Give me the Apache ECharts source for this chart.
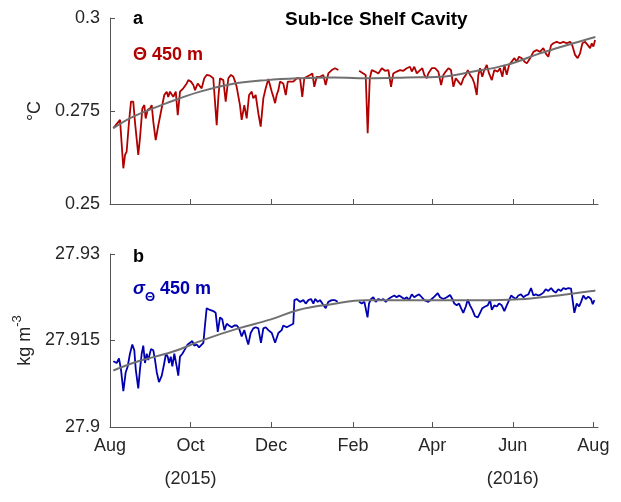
<!DOCTYPE html>
<html><head><meta charset="utf-8">
<script src="https://cdn.jsdelivr.net/npm/echarts@6/dist/echarts.min.js"></script>
<style>html,body{margin:0;padding:0;background:#fff}#c{width:621px;height:502px}</style>
</head><body><div id="c"></div>
<script>
// ---- data (days since 1 Aug 2015, value) ----
const xMaxDay = 369.5;
const tickDays = [0, 61, 122, 184, 244, 305, 366];
const tickLabels = ['Aug', 'Oct', 'Dec', 'Feb', 'Apr', 'Jun', 'Aug'];
const yearLabels = { 61: '(2015)', 305: '(2016)' };
const thetaTicks = [0.25, 0.275, 0.3];
const sigmaTicks = [27.9, 27.915, 27.93];

const thetaObs = [[2.5,0.2704],[7.6,0.2726],[10.1,0.2596],[11.4,0.2632],[12.6,0.2641],[14.4,0.2721],[15.9,0.2775],[17.6,0.2775],[18.9,0.2721],[21.4,0.2632],
[22.7,0.2677],[24.5,0.2757],[26.0,0.2766],[27.0,0.2730],[28.5,0.2753],[30.3,0.2757],[31.6,0.2766],[32.8,0.2721],[34.6,0.2672],[36.6,0.2712],
[38.6,0.2748],[41.1,0.2793],[42.9,0.2802],[44.1,0.2788],[45.4,0.2802],[47.9,0.2788],[49.8,0.2802],[51.3,0.2739],[53.0,0.2802],[55.5,0.2811],
[58.1,0.2824],[59.3,0.2833],[61.3,0.2829],[63.1,0.2820],[64.4,0.2806],[66.4,0.2824],[69.4,0.2811],[71.4,0.2838],[73.2,0.2847],[75.7,0.2845],
[78.2,0.2838],[79.5,0.2838],[80.8,0.2712],[82.0,0.2785],[83.3,0.2838],[85.8,0.2833],[87.6,0.2775],[89.6,0.2838],[91.6,0.2847],[93.4,0.2842],
[94.7,0.2829],[95.9,0.2815],[98.4,0.2766],[99.7,0.2726],[101.7,0.2766],[103.5,0.2730],[105.3,0.2793],[107.3,0.2802],[108.5,0.2784],[110.3,0.2793],
[112.3,0.2744],[114.1,0.2708],[116.1,0.2784],[117.9,0.2811],[119.9,0.2836],[121.2,0.2833],[122.5,0.2802],[123.7,0.2788],[125.0,0.2771],[126.2,0.2793],
[127.5,0.2806],[128.7,0.2829],[130.0,0.2833],[131.2,0.2824],[133.1,0.2793],[134.6,0.2829],[136.3,0.2829],[138.8,0.2829],[141.4,0.2838],[143.9,0.2838],
[145.6,0.2788],[147.1,0.2838],[149.0,0.2842],[151.5,0.2847],[153.2,0.2851],[154.7,0.2815],[156.5,0.2842],[159.0,0.2842],[161.5,0.2847],[163.3,0.2820],
[165.3,0.2851],[167.9,0.2860],[170.4,0.2865],[172.9,0.2860],[180,null],
[188.6,0.2858],[191.8,0.2851],[193.6,0.2847],[195.1,0.2690],[196.7,0.2838],[198.2,0.2860],[200.7,0.2856],[203.2,0.2851],[205.8,0.2865],[208.3,0.2858],
[210.8,0.2860],[212.8,0.2815],[214.5,0.2851],[217.1,0.2856],[219.6,0.2860],[222.1,0.2858],[224.7,0.2865],[227.2,0.2869],[228.5,0.2856],[230.4,0.2869],
[232.3,0.2851],[234.8,0.2860],[236.5,0.2865],[238.0,0.2847],[239.8,0.2838],[241.0,0.2851],[243.6,0.2865],[246.1,0.2865],[248.6,0.2856],[250.7,0.2820],
[252.4,0.2847],[254.2,0.2856],[256.2,0.2865],[258.2,0.2860],[260.0,0.2815],[261.8,0.2838],[263.8,0.2829],[265.8,0.2820],[267.6,0.2838],[269.4,0.2847],
[270.9,0.2860],[272.6,0.2847],[274.4,0.2838],[275.9,0.2824],[277.7,0.2793],[278.9,0.2847],[280.2,0.2865],[281.9,0.2842],[283.4,0.2860],[285.3,0.2874],
[287.0,0.2851],[289.1,0.2833],[291.0,0.2860],[293.6,0.2856],[295.3,0.2865],[297.1,0.2842],[298.6,0.2874],[300.4,0.2847],[302.2,0.2874],[304.2,0.2883],
[306.2,0.2892],[308.0,0.2883],[309.7,0.2896],[311.8,0.2892],[313.7,0.2883],[315.6,0.2878],[318.1,0.2892],[320.6,0.2909],[323.1,0.2914],[325.6,0.2909],
[328.1,0.2919],[329.9,0.2905],[331.9,0.2896],[334.0,0.2927],[335.7,0.2932],[338.3,0.2936],[340.8,0.2932],[343.3,0.2936],[345.8,0.2932],[348.4,0.2936],
[350.0,0.2927],[352.1,0.2901],[354.1,0.2892],[355.9,0.2905],[357.7,0.2932],[359.7,0.2936],[361.8,0.2927],[363.5,0.2919],[364.8,0.2932],[366.0,0.2923],
[367.3,0.2941]];

const thetaFit = [[2.5,0.2704],[17.6,0.2735],[42.9,0.2771],[68.2,0.2802],[93.4,0.2823],[118.7,0.2833],[143.9,0.2838],[168.9,0.2840],
[199.2,0.2838],[224.7,0.2840],[249.9,0.2842],[275.1,0.2856],[300.4,0.2874],[325.6,0.2905],[350.8,0.2932],[367.5,0.2949]];

const sigmaObs = [[2.5,27.9114],[5.1,27.9111],[6.8,27.9119],[8.3,27.9100],[10.1,27.9062],[11.9,27.9095],[13.4,27.9105],[15.1,27.9127],[16.9,27.9143],[18.4,27.9133],
[19.5,27.9100],[21.4,27.9067],[22.7,27.9100],[24.0,27.9127],[25.2,27.9141],[26.5,27.9111],[27.8,27.9127],[29.0,27.9116],[31.0,27.9135],[32.8,27.9133],
[34.1,27.9116],[35.4,27.9095],[37.1,27.9078],[39.2,27.9089],[41.1,27.9111],[42.4,27.9127],[43.7,27.9122],[44.7,27.9111],[46.0,27.9122],[47.2,27.9105],
[48.7,27.9127],[50.5,27.9105],[51.7,27.9089],[53.0,27.9122],[54.8,27.9127],[56.8,27.9135],[58.8,27.9143],[60.6,27.9146],[62.3,27.9149],[63.8,27.9141],
[65.7,27.9143],[67.4,27.9138],[68.9,27.9135],[70.7,27.9146],[71.9,27.9176],[73.2,27.9206],[75.7,27.9203],[78.2,27.9201],[80.0,27.9198],[81.6,27.9165],
[83.3,27.9190],[85.0,27.9187],[86.6,27.9168],[88.4,27.9179],[90.1,27.9176],[92.2,27.9173],[94.1,27.9176],[96.0,27.9176],[97.7,27.9171],[99.7,27.9157],
[101.7,27.9168],[103.5,27.9152],[104.7,27.9143],[106.5,27.9163],[108.5,27.9171],[110.3,27.9173],[112.3,27.9171],[114.3,27.9146],[116.1,27.9171],[117.9,27.9173],
[119.9,27.9168],[122.5,27.9163],[125.0,27.9146],[127.5,27.9163],[130.0,27.9168],[131.2,27.9176],[133.8,27.9173],[136.3,27.9176],[138.8,27.9179],[139.6,27.9220],
[141.4,27.9222],[143.9,27.9217],[146.4,27.9220],[148.2,27.9214],[150.2,27.9220],[152.2,27.9222],[154.0,27.9214],[155.3,27.9222],[157.3,27.9217],[159.0,27.9220],
[160.8,27.9214],[163.3,27.9206],[165.3,27.9217],[167.9,27.9220],[170.4,27.9220],[172.4,27.9217],[180,null],
[188.6,27.9217],[190.6,27.9214],[192.6,27.9217],[195.0,27.9190],[196.1,27.9214],[197.7,27.9222],[199.4,27.9225],[201.2,27.9217],[203.2,27.9222],[205.2,27.9220],
[207.0,27.9222],[208.8,27.9217],[210.8,27.9222],[212.8,27.9225],[215.3,27.9228],[217.1,27.9225],[218.9,27.9228],[220.9,27.9225],[222.9,27.9222],[224.7,27.9225],
[226.4,27.9220],[228.5,27.9230],[230.4,27.9225],[232.3,27.9228],[234.0,27.9230],[236.1,27.9225],[238.0,27.9220],[241.0,27.9217],[243.6,27.9222],[245.6,27.9226],
[248.2,27.9232],[249.9,27.9225],[252.4,27.9222],[255.0,27.9225],[257.5,27.9229],[259.2,27.9222],[260.7,27.9214],[262.5,27.9211],[264.3,27.9214],[265.8,27.9206],
[267.5,27.9198],[269.4,27.9209],[270.9,27.9221],[272.6,27.9211],[274.4,27.9203],[276.4,27.9192],[278.5,27.9190],[280.2,27.9198],[281.9,27.9206],[284.0,27.9209],
[286.0,27.9211],[287.8,27.9220],[289.1,27.9203],[291.0,27.9211],[292.8,27.9209],[294.6,27.9214],[296.6,27.9211],[298.6,27.9201],[300.4,27.9211],[302.2,27.9220],
[303.7,27.9228],[305.4,27.9225],[307.2,27.9222],[309.2,27.9228],[311.2,27.9230],[313.0,27.9225],[314.8,27.9228],[316.8,27.9230],[318.8,27.9241],[320.6,27.9228],
[322.4,27.9230],[324.3,27.9228],[326.4,27.9230],[328.1,27.9233],[329.9,27.9239],[331.9,27.9236],[334.0,27.9241],[335.7,27.9236],[337.5,27.9233],[339.5,27.9239],
[341.5,27.9236],[343.3,27.9241],[345.1,27.9239],[347.1,27.9241],[349.1,27.9240],[350.1,27.9239],[351.6,27.9198],[353.4,27.9214],[355.2,27.9209],[356.7,27.9217],
[358.4,27.9228],[360.2,27.9222],[362.2,27.9226],[364.2,27.9222],[365.5,27.9213],[366.8,27.9220]];

const sigmaFit = [[2.5,27.9098],[21.4,27.9114],[46.7,27.9130],[71.9,27.9152],[97.2,27.9171],[122.5,27.9187],[142.6,27.9203],[167.9,27.9213],
[193.1,27.9220],[238.5,27.9220],[289.1,27.9220],[314.3,27.9222],[339.5,27.9228],[366.0,27.9236],[367.5,27.9237]];

// ---- chart ----
const FONT = '"Liberation Sans", Arial, Helvetica, sans-serif';
const RED = '#b00000', BLUE = '#0000b0', GRAY = '#707070', AX = '#555555', TXT = '#262626';
const toSeries = arr => arr.map(p => [p[0], p[1] === null ? '-' : p[1]]);

function xAxisCfg(gi, showLabels) {
  return {
    gridIndex: gi, type: 'value', min: 0, max: xMaxDay,
    axisLine: { show: true, onZero: false, lineStyle: { color: AX, width: 1 } },
    axisTick: { show: true, inside: true, length: 5, customValues: tickDays, lineStyle: { color: AX } },
    axisLabel: {
      show: showLabels, customValues: tickDays, margin: 9, fontSize: 18, lineHeight: 20,
      color: TXT, fontFamily: FONT, showMaxLabel: true, showMinLabel: true,
      formatter: function (v) {
        const d = Math.round(v);
        const i = tickDays.indexOf(d);
        if (i < 0) return '';
        return yearLabels[d] ? tickLabels[i] + '\n{yr|' + yearLabels[d] + '}' : tickLabels[i];
      },
      rich: { yr: { fontSize: 18, lineHeight: 46, color: TXT, fontFamily: FONT } }
    },
    splitLine: { show: false }
  };
}
function yAxisCfg(gi, ticks, name, gap, rich) {
  return {
    gridIndex: gi, type: 'value', min: ticks[0], max: ticks[ticks.length - 1],
    interval: ticks[1] - ticks[0],
    name: name, nameLocation: 'middle', nameGap: gap,
    nameTextStyle: Object.assign({ fontSize: 18, color: TXT, fontFamily: FONT }, rich ? { rich: rich } : {}),
    axisLine: { show: true, lineStyle: { color: AX, width: 1 } },
    axisTick: { show: true, inside: true, length: 5, customValues: ticks, lineStyle: { color: AX } },
    axisLabel: { fontSize: 18, color: TXT, fontFamily: FONT, margin: 10, customValues: ticks,
      formatter: v => String(+(+v).toFixed(4)) },
    splitLine: { show: false }
  };
}

const chart = echarts.init(document.getElementById('c'), null, { renderer: 'canvas' });
chart.setOption({
  animation: false,
  backgroundColor: '#ffffff',
  grid: [
    { left: 110, right: 23, top: 18, height: 186 },
    { left: 110, right: 23, top: 254, height: 184 }
  ],
  xAxis: [xAxisCfg(0, false), xAxisCfg(1, true)],
  yAxis: [
    yAxisCfg(0, thetaTicks, '°C', 65),
    yAxisCfg(1, sigmaTicks, '{a|kg m}{s|-3}', 65, {
      a: { fontSize: 18, lineHeight: 28, color: TXT, fontFamily: FONT },
      s: { fontSize: 13, lineHeight: 28, verticalAlign: 'top', color: TXT, fontFamily: FONT }
    })
  ],
  series: [
    { type: 'line', xAxisIndex: 0, yAxisIndex: 0, data: toSeries(thetaObs), showSymbol: false, symbol: 'none',
      lineStyle: { color: RED, width: 1.8 }, connectNulls: false, z: 2 },
    { type: 'line', xAxisIndex: 0, yAxisIndex: 0, data: toSeries(thetaFit), showSymbol: false, symbol: 'none',
      smooth: 0.4, lineStyle: { color: GRAY, width: 2 }, z: 3 },
    { type: 'line', xAxisIndex: 1, yAxisIndex: 1, data: toSeries(sigmaObs), showSymbol: false, symbol: 'none',
      lineStyle: { color: BLUE, width: 1.8 }, connectNulls: false, z: 2 },
    { type: 'line', xAxisIndex: 1, yAxisIndex: 1, data: toSeries(sigmaFit), showSymbol: false, symbol: 'none',
      smooth: 0.4, lineStyle: { color: GRAY, width: 2 }, z: 3 }
  ],
  graphic: [
    { type: 'text', x: 133, y: 19.5, style: { text: 'a', font: 'bold 18px ' + FONT, fill: '#000', align: 'left', verticalAlign: 'middle', textAlign: 'left', textVerticalAlign: 'middle' } },
    { type: 'text', x: 285, y: 19.5, style: { text: 'Sub-Ice Shelf Cavity', font: 'bold 19px ' + FONT, fill: '#000', align: 'left', verticalAlign: 'middle', textAlign: 'left', textVerticalAlign: 'middle' } },
    { type: 'text', x: 133, y: 257, style: { text: 'b', font: 'bold 18px ' + FONT, fill: '#000', align: 'left', verticalAlign: 'middle', textAlign: 'left', textVerticalAlign: 'middle' } },
    { type: 'text', x: 133, y: 55, style: { text: 'Θ 450 m', font: 'bold 18px ' + FONT, fill: RED, align: 'left', verticalAlign: 'middle', textAlign: 'left', textVerticalAlign: 'middle' } },
    { type: 'text', x: 133, y: 289, style: {
        text: '{s|σ}{t|Θ}{n| 450 m}', fill: BLUE, align: 'left', verticalAlign: 'middle', textAlign: 'left', textVerticalAlign: 'middle',
        rich: {
          s: { fontSize: 18, fontWeight: 'bold', fontStyle: 'italic', fontFamily: FONT, fill: BLUE, color: BLUE, lineHeight: 30 },
          t: { fontSize: 13, fontWeight: 'bold', fontFamily: FONT, fill: BLUE, color: BLUE, lineHeight: 30, verticalAlign: 'bottom' },
          n: { fontSize: 18, fontWeight: 'bold', fontFamily: FONT, fill: BLUE, color: BLUE, lineHeight: 30 }
        } } }
  ]
});
</script>
</body></html>
